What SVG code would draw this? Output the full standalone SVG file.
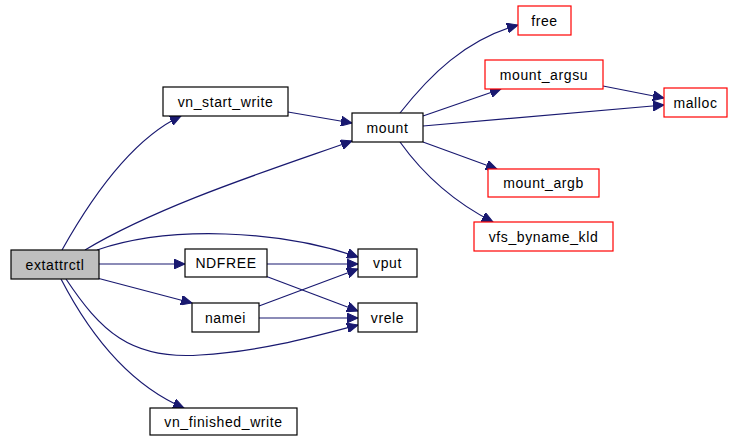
<svg xmlns="http://www.w3.org/2000/svg" width="729" height="443" viewBox="0 0 729 443">
  <style>
    .box { fill: #ffffff; stroke: #000000; stroke-width: 1.2; }
    .ext { fill: #ffffff; stroke: #ff0000; stroke-width: 1.2; }
    .cur { fill: #bfbfbf; stroke: #000000; stroke-width: 1.2; }
    .lbl { font-family: "Liberation Sans", Arial, sans-serif; font-size: 14px; fill: #000000; text-anchor: middle; letter-spacing: 0.6px; }
    .edge { fill: none; stroke: #191970; stroke-width: 1.2; marker-end: url(#arrow); }
  </style>
  <defs>
    <marker id="arrow" markerUnits="userSpaceOnUse" markerWidth="12" markerHeight="10" refX="11" refY="5" orient="auto">
      <path d="M0,0 L11,5 L0,10 Z" fill="#191970" stroke="#191970" stroke-width="1"/>
    </marker>
  </defs>
  <rect width="729" height="443" fill="#ffffff"/>

  <g id="connectors">
    <path class="edge" d="M62,250 C90,200 130,140 181,116"/>
    <path class="edge" d="M85,250 C160,205 270,170 352,141"/>
    <path class="edge" d="M97,250 C170,225 280,230 358,257"/>
    <path class="edge" d="M99,264 L185,264"/>
    <path class="edge" d="M97,278 L192,303"/>
    <path class="edge" d="M66,279 C100,330 130,360 200,355 C260,352 320,335 358,325"/>
    <path class="edge" d="M61,279 C90,335 130,385 184,408"/>
    <path class="edge" d="M288,112 L352,123"/>
    <path class="edge" d="M400,113 C430,75 465,40 518,25"/>
    <path class="edge" d="M423,116 L501,89"/>
    <path class="edge" d="M423,126 L664,105"/>
    <path class="edge" d="M423,142 L497,169"/>
    <path class="edge" d="M400,142 C420,170 450,200 493,222"/>
    <path class="edge" d="M603,86 L664,98"/>
    <path class="edge" d="M267,264 L358,264"/>
    <path class="edge" d="M260,274 L358,311"/>
    <path class="edge" d="M259,306 L358,269"/>
    <path class="edge" d="M259,318 L358,318"/>
  </g>

  <g id="extattrctl">
    <rect class="cur" x="11" y="250" width="88" height="29"/>
    <text class="lbl" x="55" y="269.5">extattrctl</text>
  </g>
  <g id="vn_start_write">
    <rect class="box" x="163" y="87" width="125" height="29"/>
    <text class="lbl" x="225.5" y="106.5">vn_start_write</text>
  </g>
  <g id="mount">
    <rect class="box" x="352" y="113" width="71" height="29"/>
    <text class="lbl" x="387.5" y="132.5">mount</text>
  </g>
  <g id="free">
    <rect class="ext" x="518" y="6" width="53" height="29"/>
    <text class="lbl" x="544.5" y="25.5">free</text>
  </g>
  <g id="mount_argsu">
    <rect class="ext" x="485" y="60" width="118" height="29"/>
    <text class="lbl" x="544" y="79.5">mount_argsu</text>
  </g>
  <g id="malloc">
    <rect class="ext" x="664" y="88" width="63" height="29"/>
    <text class="lbl" x="695.5" y="107.5">malloc</text>
  </g>
  <g id="mount_argb">
    <rect class="ext" x="488" y="169" width="111" height="28"/>
    <text class="lbl" x="543.5" y="188">mount_argb</text>
  </g>
  <g id="vfs_byname_kld">
    <rect class="ext" x="474" y="222" width="139" height="29"/>
    <text class="lbl" x="543.5" y="241.5">vfs_byname_kld</text>
  </g>
  <g id="NDFREE">
    <rect class="box" x="185" y="249" width="82" height="28"/>
    <text class="lbl" x="226" y="268">NDFREE</text>
  </g>
  <g id="vput">
    <rect class="box" x="358" y="249" width="59" height="28"/>
    <text class="lbl" x="387.5" y="268">vput</text>
  </g>
  <g id="namei">
    <rect class="box" x="192" y="303" width="67" height="29"/>
    <text class="lbl" x="225.5" y="322.5">namei</text>
  </g>
  <g id="vrele">
    <rect class="box" x="358" y="303" width="59" height="29"/>
    <text class="lbl" x="387.5" y="322.5">vrele</text>
  </g>
  <g id="vn_finished_write">
    <rect class="box" x="150" y="408" width="147" height="27"/>
    <text class="lbl" x="223.5" y="426.5">vn_finished_write</text>
  </g>
</svg>
